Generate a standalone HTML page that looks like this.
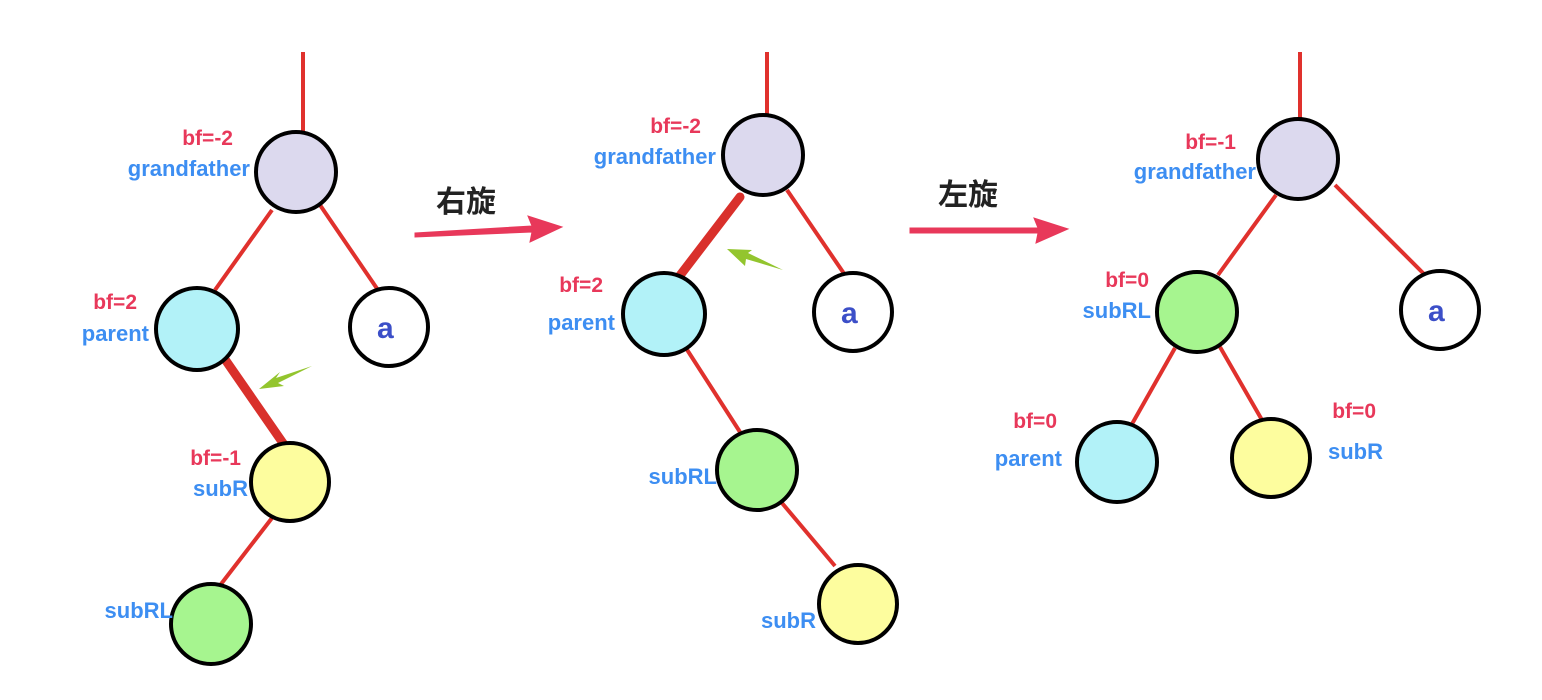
<!DOCTYPE html>
<html><head><meta charset="utf-8"><style>
html,body{margin:0;padding:0;background:#fff;}
svg{display:block}
.bf{fill:#e8385a;font:bold 21px "Liberation Sans",sans-serif;text-anchor:end;}
.nm{fill:#3d8ef2;font:bold 22px "Liberation Sans",sans-serif;text-anchor:end;}
.a{fill:#3c4fc8;font:bold 30px "Liberation Sans",sans-serif;}
.cn{fill:#222;font:bold 30px "Liberation Sans","Noto Sans CJK SC",sans-serif;}
</style></head><body>
<svg width="1542" height="700" viewBox="0 0 1542 700">
<g stroke="#e0312d" stroke-width="4" fill="none">
<line x1="303" y1="52" x2="303" y2="134"/>
<line x1="272" y1="210" x2="215" y2="290"/>
<line x1="320" y1="205" x2="378" y2="290"/>
<line x1="272" y1="518" x2="218" y2="588"/>
<line x1="767" y1="52" x2="767" y2="117"/>
<line x1="787" y1="190" x2="845" y2="275"/>
<line x1="684" y1="345" x2="740" y2="432"/>
<line x1="782" y1="503" x2="835" y2="566"/>
<line x1="1300" y1="52" x2="1300" y2="121"/>
<line x1="1276" y1="195" x2="1218" y2="275"/>
<line x1="1335" y1="185" x2="1424" y2="274"/>
<line x1="1175" y1="348" x2="1132" y2="424"/>
<line x1="1220" y1="347" x2="1262" y2="420"/>
</g>
<g stroke="#d9302b" stroke-width="9" stroke-linecap="round">
<line x1="222" y1="355" x2="285" y2="446"/>
<line x1="740" y1="197" x2="675" y2="282"/>
</g>
<g fill="#93c52e">
<polygon points="312,366 276,378 280,372 259,389 284,386 278,383"/>
<polygon points="783,270 748,253 752,250 727,249 745,266 746,259"/>
</g>
<g stroke="#e8385a" fill="#e8385a">
<polygon points="415,233 532,226 528,216 562,227 530,242 532,232 415,237"/>
<polygon points="910,228 1038,228 1034,218 1068,229 1036,243 1038,233 910,233"/>
</g>
<text class="cn" x="436" y="212">右旋</text>
<text class="cn" x="938" y="205">左旋</text>
<g stroke="#000" stroke-width="4">
<circle cx="296" cy="172" r="40" fill="#dcd9ee"/>
<circle cx="197" cy="329" r="41" fill="#b2f2f8"/>
<circle cx="389" cy="327" r="39" fill="#fff"/>
<circle cx="290" cy="482" r="39" fill="#fdfd9e"/>
<circle cx="211" cy="624" r="40" fill="#a6f58f"/>
<circle cx="763" cy="155" r="40" fill="#dcd9ee"/>
<circle cx="664" cy="314" r="41" fill="#b2f2f8"/>
<circle cx="853" cy="312" r="39" fill="#fff"/>
<circle cx="757" cy="470" r="40" fill="#a6f58f"/>
<circle cx="858" cy="604" r="39" fill="#fdfd9e"/>
<circle cx="1298" cy="159" r="40" fill="#dcd9ee"/>
<circle cx="1197" cy="312" r="40" fill="#a6f58f"/>
<circle cx="1440" cy="310" r="39" fill="#fff"/>
<circle cx="1117" cy="462" r="40" fill="#b2f2f8"/>
<circle cx="1271" cy="458" r="39" fill="#fdfd9e"/>
</g>
<text class="a" x="377" y="338">a</text>
<text class="a" x="841" y="323">a</text>
<text class="a" x="1428" y="321">a</text>
<text class="bf" x="233" y="145">bf=-2</text>
<text class="nm" x="250" y="176">grandfather</text>
<text class="bf" x="137" y="309">bf=2</text>
<text class="nm" x="149" y="341">parent</text>
<text class="bf" x="241" y="465">bf=-1</text>
<text class="nm" x="248" y="496">subR</text>
<text class="nm" x="173" y="618">subRL</text>
<text class="bf" x="701" y="133">bf=-2</text>
<text class="nm" x="716" y="164">grandfather</text>
<text class="bf" x="603" y="292">bf=2</text>
<text class="nm" x="615" y="330">parent</text>
<text class="nm" x="717" y="484">subRL</text>
<text class="nm" x="816" y="628">subR</text>
<text class="bf" x="1236" y="149">bf=-1</text>
<text class="nm" x="1256" y="179">grandfather</text>
<text class="bf" x="1149" y="287">bf=0</text>
<text class="nm" x="1151" y="318">subRL</text>
<text class="bf" x="1057" y="428">bf=0</text>
<text class="nm" x="1062" y="466">parent</text>
<text class="bf" x="1376" y="418">bf=0</text>
<text class="nm" x="1383" y="459">subR</text>
</svg>
</body></html>
